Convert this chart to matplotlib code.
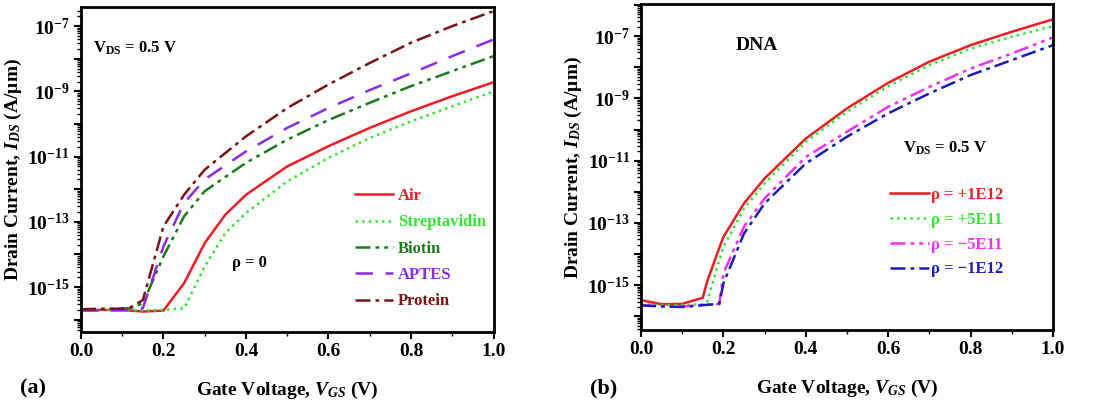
import numpy as np
import matplotlib
matplotlib.use("Agg")
import matplotlib.pyplot as plt
from matplotlib.ticker import FixedLocator, FuncFormatter, MultipleLocator

plt.rcParams["font.family"] = ["Liberation Serif", "DejaVu Serif"]
plt.rcParams["font.weight"] = "bold"
plt.rcParams["mathtext.fontset"] = "custom"
plt.rcParams["mathtext.rm"] = "Liberation Serif:bold"
plt.rcParams["mathtext.it"] = "Liberation Serif:italic:bold"
plt.rcParams["mathtext.bf"] = "Liberation Serif:bold"

# ---- panel (a): log10 of drain current (A/um) vs gate voltage ----
vgs_a = [0.0, 0.05, 0.1, 0.12, 0.15, 0.2, 0.25, 0.3, 0.35, 0.4, 0.5, 0.6, 0.7, 0.8, 0.9, 1.0]
air = [-15.70, -15.70, -15.71, -15.72, -15.75, -15.72, -14.88, -13.65, -12.78, -12.17, -11.30, -10.68,
       -10.12, -9.61, -9.15, -8.72]
strep_v = [0.0, 0.05, 0.1, 0.15, 0.2, 0.25, 0.3, 0.35, 0.4, 0.5, 0.6, 0.7, 0.8, 0.9, 1.0]
strep = [-15.70, -15.70, -15.70, -15.71, -15.70, -15.65, -14.37, -13.34, -12.73, -11.76, -11.04,
         -10.43, -9.92, -9.46, -9.00]
vgs_b5 = [0.0, 0.05, 0.1, 0.12, 0.15, 0.2, 0.25, 0.3, 0.4, 0.5, 0.6, 0.7, 0.8, 0.9, 1.0]
biotin = [-15.68, -15.67, -15.66, -15.65, -15.50, -14.06, -12.83, -12.06, -11.19, -10.48, -9.88,
          -9.35, -8.84, -8.38, -7.92]
aptes = [-15.72, -15.72, -15.71, -15.70, -15.65, -13.75, -12.42, -11.70, -10.84, -10.12, -9.51,
         -8.96, -8.45, -7.92, -7.41]
protein = [-15.68, -15.67, -15.66, -15.62, -15.40, -13.14, -12.17, -11.40, -10.38, -9.51, -8.79,
           -8.13, -7.51, -7.00, -6.54]
labels_a = ["Air", "Streptavidin", "Biotin", "APTES", "Protein"]

# ---- panel (b): DNA with different charge densities ----
vgs_b = [0.0, 0.05, 0.1, 0.15, 0.16, 0.19, 0.2, 0.25, 0.3, 0.4, 0.5, 0.6, 0.7, 0.8, 0.9, 1.0]
rho_p1e12 = [-15.48, -15.61, -15.60, -15.40, -14.90, -13.80, -13.45, -12.37, -11.57, -10.29, -9.32,
             -8.50, -7.82, -7.29, -6.86, -6.46]
rho_p5e11 = [-15.61, -15.64, -15.64, -15.61, -15.55, -14.20, -13.77, -12.54, -11.73, -10.39, -9.43,
             -8.61, -7.93, -7.40, -7.02, -6.68]
rho_m5e11 = [-15.64, -15.67, -15.68, -15.64, -15.63, -15.60, -14.62, -13.12, -12.21, -10.88, -10.07,
             -9.27, -8.63, -8.04, -7.56, -7.04]
rho_m1e12 = [-15.65, -15.68, -15.70, -15.64, -15.63, -15.60, -14.94, -13.34, -12.37, -11.09, -10.23,
             -9.48, -8.84, -8.25, -7.77, -7.29]
labels_b = ["\u03c1 = +1E12", "\u03c1 = +5E11", "\u03c1 = \u22125E11", "\u03c1 = \u22121E12"]

DASHDOTDOT = (0, (6, 2, 1.5, 2, 1.5, 2))
DASHDOT = (0, (6, 2, 1.5, 2))
DASHED = (0, (7, 5))


def style_axis(ax, ylo, yhi):
    ax.set_yscale("log")
    ax.set_xlim(0, 1.0)
    ax.set_ylim(10.0 ** ylo, 10.0 ** yhi)
    ax.xaxis.set_major_locator(MultipleLocator(0.2))
    ax.xaxis.set_minor_locator(MultipleLocator(0.1))
    ax.xaxis.set_major_formatter(FuncFormatter(lambda v, p: f"{v:.1f}"))
    ax.yaxis.set_major_locator(FixedLocator([10.0 ** e for e in range(-17, -4)]))
    ax.yaxis.set_major_formatter(FuncFormatter(
        lambda v, p: (r"$10^{%d}$" % round(np.log10(v))) if round(np.log10(v)) % 2 else ""))
    minors = [m * 10.0 ** e for e in range(-17, -4) for m in range(2, 10)]
    ax.yaxis.set_minor_locator(FixedLocator(minors))
    ax.yaxis.set_minor_formatter(FuncFormatter(lambda v, p: ""))
    ax.tick_params(which="major", direction="out", length=5, width=1.5, labelsize=14, pad=3)
    ax.tick_params(which="minor", direction="out", length=3, width=1.0)
    for s in ax.spines.values():
        s.set_linewidth(2)
    ax.set_xlabel(r"Gate Voltage, $V_{GS}$ (V)", fontsize=14, fontweight="bold", labelpad=14)
    ax.set_ylabel("Drain Current, $I_{DS}$ (A/\u03bcm)", fontsize=14, fontweight="bold", labelpad=2)


fig = plt.figure(figsize=(11.09, 4.04), dpi=100)
ax1 = fig.add_axes([0.073, 0.178, 0.372, 0.805])
ax2 = fig.add_axes([0.578, 0.183, 0.3715, 0.807])

lw = 1.8
ax1.plot(vgs_a, 10.0 ** np.array(air), color="#ee1c24", lw=lw, ls="-", label=labels_a[0])
ax1.plot(strep_v, 10.0 ** np.array(strep), color="#33e633", lw=lw, ls=":", label=labels_a[1])
ax1.plot(vgs_b5, 10.0 ** np.array(biotin), color="#1c7a1c", lw=lw, ls=DASHDOTDOT, label=labels_a[2])
ax1.plot(vgs_b5, 10.0 ** np.array(aptes), color="#8a2be8", lw=lw, ls=DASHED, label=labels_a[3])
ax1.plot(vgs_b5, 10.0 ** np.array(protein), color="#7a1414", lw=lw, ls=DASHDOT, label=labels_a[4])
style_axis(ax1, -16.38, -6.41)
leg = ax1.legend(loc="upper left", bbox_to_anchor=(0.664, 0.443), frameon=False, fontsize=12,
                 handlelength=2.3, handletextpad=0.3, labelspacing=0.62, labelcolor="linecolor",
                 borderpad=0, borderaxespad=0)
for t in leg.get_texts():
    t.set_fontweight("bold")
ax1.text(0.03, 0.86, r"V$_{\mathrm{DS}}$ = 0.5 V", transform=ax1.transAxes, fontsize=12,
         fontweight="bold")
ax1.text(0.365, 0.2, "\u03c1 = 0", transform=ax1.transAxes, fontsize=12, fontweight="bold")
fig.text(0.018, 0.025, "(a)", fontsize=16, fontweight="bold")

ax2.plot(vgs_b, 10.0 ** np.array(rho_p1e12), color="#ee1c24", lw=lw, ls="-", label=labels_b[0])
ax2.plot(vgs_b, 10.0 ** np.array(rho_p5e11), color="#33e633", lw=lw, ls=":", label=labels_b[1])
ax2.plot(vgs_b, 10.0 ** np.array(rho_m5e11), color="#f030f0", lw=lw, ls=DASHDOTDOT, label=labels_b[2])
ax2.plot(vgs_b, 10.0 ** np.array(rho_m1e12), color="#1c1cb4", lw=lw, ls=DASHDOT, label=labels_b[3])
style_axis(ax2, -16.44, -5.97)
leg2 = ax2.legend(loc="upper left", bbox_to_anchor=(0.605, 0.439), frameon=False, fontsize=12,
                  handlelength=2.3, handletextpad=0.15, labelspacing=0.53, labelcolor="linecolor",
                  borderpad=0, borderaxespad=0)
for t in leg2.get_texts():
    t.set_fontweight("bold")
ax2.text(0.23, 0.86, "DNA", transform=ax2.transAxes, fontsize=14, fontweight="bold")
ax2.text(0.635, 0.545, r"V$_{\mathrm{DS}}$ = 0.5 V", transform=ax2.transAxes, fontsize=12,
         fontweight="bold")
fig.text(0.532, 0.025, "(b)", fontsize=16, fontweight="bold")

fig.savefig("out.png", dpi=100)
